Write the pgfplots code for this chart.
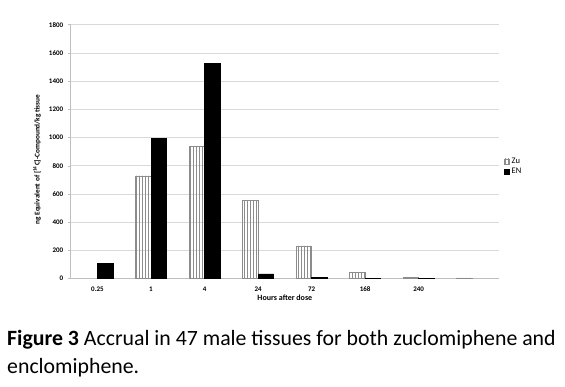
\documentclass[border=0pt]{standalone}
\usepackage{pgfplots}
\pgfplotsset{compat=1.18}
\usepackage{fontspec}
\setmainfont{Carlito}
\usetikzlibrary{patterns}
\definecolor{gridgray}{HTML}{D9D9D9}
\definecolor{axgray}{HTML}{BFBFBF}
\definecolor{zugray}{HTML}{8C8C8C}
\pgfdeclarepatternformonly{vstripes}{\pgfqpoint{-0.5pt}{-0.5pt}}{\pgfqpoint{3.5pt}{3.5pt}}{\pgfqpoint{3pt}{3pt}}{%
  \pgfsetlinewidth{1.1pt}%
  \pgfpathmoveto{\pgfqpoint{1.5pt}{-0.5pt}}%
  \pgfpathlineto{\pgfqpoint{1.5pt}{3.5pt}}%
  \pgfusepath{stroke}}
\begin{document}
\begin{tikzpicture}
\useasboundingbox (0pt,0pt) rectangle (565pt,386pt);
\begin{axis}[
  at={(70.7pt,107.3pt)}, anchor=south west,
  scale only axis, width=428.3pt, height=254pt,
  xmin=-0.5, xmax=7.5, ymin=0, ymax=1800,
  ybar=0pt, bar width=15.5pt,
  xtick={0,1,2,3,4,5,6,7},
  xticklabels={0.25,1,4,24,72,168,240,{}},
  ytick={0,200,...,1800},
  major tick length=3pt,
  xtick style={draw=none},
  ytick style={draw=axgray, line width=0.6pt},
  tick align=outside,
  ymajorgrids, grid style={gridgray, line width=0.8pt},
  axis x line*=bottom, axis y line*=left,
  axis line style={axgray, line width=0.8pt},
  /pgf/number format/assume math mode=true,
  /pgf/number format/set thousands separator={},
  yticklabel style={font=\fontsize{7}{8}\selectfont\bfseries, xshift=-1pt},
  xticklabel style={font=\fontsize{7}{8}\selectfont\bfseries, text height=5pt, text depth=0pt, yshift=-1pt},
  xlabel={Hours after dose},
  xlabel style={font=\fontsize{8}{9}\selectfont\bfseries, at={(axis description cs:0.5,-0.076)}, anchor=center},
  ylabel={ng Equivalent of [\textsuperscript{14}C]-Compound/kg tissue},
  ylabel style={font=\fontsize{7.3}{8}\selectfont\bfseries, at={(axis description cs:-0.0787,0.469)}, anchor=center},
  legend style={draw=none, fill=none, at={(axis description cs:1.012,0.485)}, anchor=north west,
    font=\fontsize{8.5}{10}\selectfont, row sep=-0.5pt, inner sep=0pt},
  legend cell align=left,
  legend image code/.code={\draw[#1, line width=0.3pt] (0pt,-2.5pt) rectangle (5pt,2.5pt);},
  clip=false,
]
\addplot[draw=zugray, line width=0.5pt, pattern=vstripes, pattern color=zugray] coordinates {
 (1,728) (2,936) (3,553) (4,232) (5,43) (6,10) (7,5)};
\addplot[draw=black, fill=black] coordinates {
 (0,108) (1,997) (2,1528) (3,35) (4,10) (5,3) (6,3)};
\legend{Zu,EN}
\end{axis}
\node[anchor=base west, inner sep=0pt, font=\fontsize{21.8}{26}\selectfont] at (7pt,40.5pt) {\textbf{Figure 3} Accrual in 47 male tissues for both zuclomiphene and};
\node[anchor=base west, inner sep=0pt, font=\fontsize{21.8}{26}\selectfont] at (7pt,13pt) {enclomiphene.};
\end{tikzpicture}
\end{document}
